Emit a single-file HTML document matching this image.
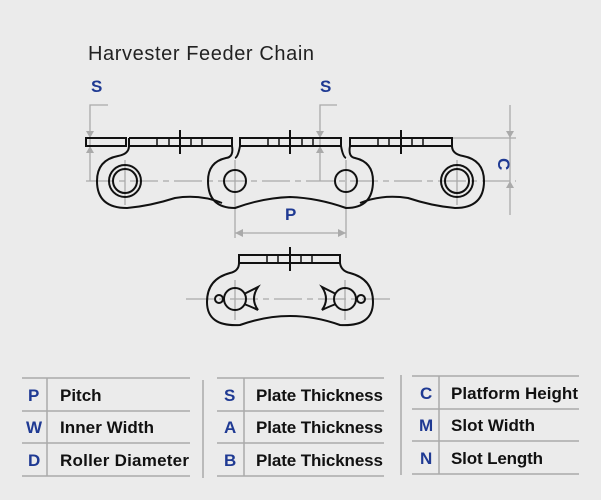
<!DOCTYPE html>
<html><head><style>
body{margin:0;background:#ebebeb;}
svg{display:block}
.t{font-family:"Liberation Sans",sans-serif;font-weight:bold;font-size:17px;fill:#111}
.l{font-family:"Liberation Sans",sans-serif;font-weight:bold;font-size:17px;fill:#1f3a93}
</style></head><body>
<svg width="601" height="500" viewBox="0 0 601 500">
<rect width="601" height="500" fill="#ebebeb"/>
<text x="88" y="60" font-family="Liberation Sans,sans-serif" font-size="20" fill="#222" textLength="226">Harvester Feeder Chain</text>
<g stroke="#aaa" stroke-width="1.3" fill="none">
<!-- center line -->
<line x1="86" y1="181" x2="516" y2="181" stroke-dasharray="28,5,6,5"/>
<line x1="186" y1="299" x2="395" y2="299" stroke-dasharray="28,5,6,5"/>
<!-- S left -->
<polyline points="108,105 90,105 90,181"/>
<!-- S mid -->
<polyline points="337,105 320,105 320,181"/>
<!-- C -->
<line x1="510" y1="105" x2="510" y2="215"/>
<line x1="452" y1="138" x2="516" y2="138"/>
<!-- P -->
<line x1="235" y1="160" x2="235" y2="238"/>
<line x1="346" y1="160" x2="346" y2="238"/>
<line x1="235" y1="233" x2="346" y2="233"/>
<line x1="125" y1="160" x2="125" y2="205"/><line x1="457" y1="160" x2="457" y2="205"/>
<line x1="235" y1="280" x2="235" y2="320"/><line x1="345" y1="280" x2="345" y2="320"/>
</g>
<g fill="#aaa">
<polygon points="86,131 94,131 90,138"/><polygon points="86,153 94,153 90,146"/>
<polygon points="316,131 324,131 320,138"/><polygon points="316,153 324,153 320,146"/>
<polygon points="506,131 514,131 510,138"/><polygon points="506,188 514,188 510,181"/>
<polygon points="235,233 243,229 243,237"/><polygon points="346,233 338,229 338,237"/>
</g>
<text class="l" x="91" y="92" font-size="14">S</text>
<text class="l" x="320" y="92" font-size="14">S</text>
<text class="l" x="285" y="220" font-size="15">P</text>
<text class="l" x="0" y="0" font-size="14" transform="translate(498,158) rotate(90)">C</text>
<g stroke="#111" stroke-width="2" fill="none">
<!-- plates -->
<rect x="86" y="138" width="40" height="8"/>
<path d="M129,138 H232 V146"/><path d="M129,138 V146"/><line x1="129" y1="146" x2="232" y2="146"/>
<rect x="240" y="138" width="101" height="8"/>
<rect x="350" y="138" width="102" height="8"/>
<g stroke-width="1.5">
<line x1="157" y1="138" x2="157" y2="146"/><line x1="169" y1="138" x2="169" y2="146"/><line x1="191" y1="138" x2="191" y2="146"/><line x1="202" y1="138" x2="202" y2="146"/>
<line x1="268" y1="138" x2="268" y2="146"/><line x1="279" y1="138" x2="279" y2="146"/><line x1="302" y1="138" x2="302" y2="146"/><line x1="313" y1="138" x2="313" y2="146"/>
<line x1="378" y1="138" x2="378" y2="146"/><line x1="389" y1="138" x2="389" y2="146"/><line x1="412" y1="138" x2="412" y2="146"/><line x1="423" y1="138" x2="423" y2="146"/>
</g>
<line x1="180" y1="130" x2="180" y2="154"/><line x1="290" y1="130" x2="290" y2="154"/><line x1="401" y1="130" x2="401" y2="154"/>
<!-- left outer link -->
<path d="M129,146 Q129,154 118,156 Q97,160 97,181 Q97,208 127,208 Q150,206 175,198 Q200,194 222,203"/>
<!-- middle inner link -->
<path d="M232,146 Q234,157 226,158 Q208,162 208,181 Q208,208 235,208 Q262,198 290,197 Q318,198 346,208 Q373,208 373,181 Q373,162 355,158 Q348,157 350,146"/>
<path d="M240,146 Q238,157 235,158"/><path d="M341,146 Q343,157 346,158"/>
<!-- right outer link -->
<path d="M452,146 Q452,154 463,156 Q484,160 484,181 Q484,208 455,208 Q432,206 408,198 Q382,194 360,203"/>
<circle cx="125" cy="181" r="16"/><circle cx="125" cy="181" r="12"/>
<circle cx="457" cy="181" r="16"/><circle cx="457" cy="181" r="12"/>
<circle cx="235" cy="181" r="11"/><circle cx="346" cy="181" r="11"/>
<!-- bottom link -->
<path d="M239,263 V255 H340 V263"/><line x1="239" y1="263" x2="340" y2="263"/>
<g stroke-width="1.5"><line x1="267" y1="255" x2="267" y2="263"/><line x1="278" y1="255" x2="278" y2="263"/><line x1="301" y1="255" x2="301" y2="263"/><line x1="312" y1="255" x2="312" y2="263"/></g>
<line x1="290" y1="247" x2="290" y2="271"/>
<path d="M239,263 Q239,271 230,273 Q207,279 207,302 Q207,327 240,325 Q265,316 290,316 Q315,316 340,325 Q373,327 373,302 Q373,279 350,273 Q341,271 340,263"/>
<circle cx="235" cy="299" r="11"/><circle cx="345" cy="299" r="11"/>
<circle cx="219" cy="299" r="4"/><circle cx="361" cy="299" r="4"/>
<path d="M244,294 Q252,290 258,287 Q250,299 258,310 Q252,307 244,304"/>
<path d="M336,294 Q328,290 322,287 Q330,299 322,310 Q328,307 336,304"/>
</g>
<!-- table -->
<g stroke="#aaa" stroke-width="1.5">
<line x1="22" y1="378" x2="190" y2="378"/><line x1="22" y1="411" x2="190" y2="411"/><line x1="22" y1="443" x2="190" y2="443"/><line x1="22" y1="476" x2="190" y2="476"/>
<line x1="47" y1="378" x2="47" y2="476"/>
<line x1="203" y1="380" x2="203" y2="478"/>
<line x1="217" y1="378" x2="384" y2="378"/><line x1="217" y1="411" x2="384" y2="411"/><line x1="217" y1="443" x2="384" y2="443"/><line x1="217" y1="476" x2="384" y2="476"/>
<line x1="244" y1="378" x2="244" y2="476"/>
<line x1="401" y1="375" x2="401" y2="475"/>
<line x1="412" y1="376" x2="579" y2="376"/><line x1="412" y1="409" x2="579" y2="409"/><line x1="412" y1="441" x2="579" y2="441"/><line x1="412" y1="474" x2="579" y2="474"/>
<line x1="439" y1="376" x2="439" y2="474"/>
</g>
<g class="l">
<text class="l" x="28" y="401">P</text><text class="l" x="26" y="433">W</text><text class="l" x="28" y="466">D</text>
<text class="l" x="224" y="401">S</text><text class="l" x="224" y="433">A</text><text class="l" x="224" y="466">B</text>
<text class="l" x="420" y="399">C</text><text class="l" x="419" y="431">M</text><text class="l" x="420" y="464">N</text>
</g>
<text class="t" x="60" y="401">Pitch</text>
<text class="t" x="60" y="433" textLength="94">Inner Width</text>
<text class="t" x="60" y="466" textLength="129">Roller Diameter</text>
<text class="t" x="256" y="401" textLength="127">Plate Thickness</text>
<text class="t" x="256" y="433" textLength="127">Plate Thickness</text>
<text class="t" x="256" y="466" textLength="127">Plate Thickness</text>
<text class="t" x="451" y="399" textLength="127">Platform Height</text>
<text class="t" x="451" y="431" textLength="84">Slot Width</text>
<text class="t" x="451" y="464" textLength="92">Slot Length</text>
</svg>
</body></html>
